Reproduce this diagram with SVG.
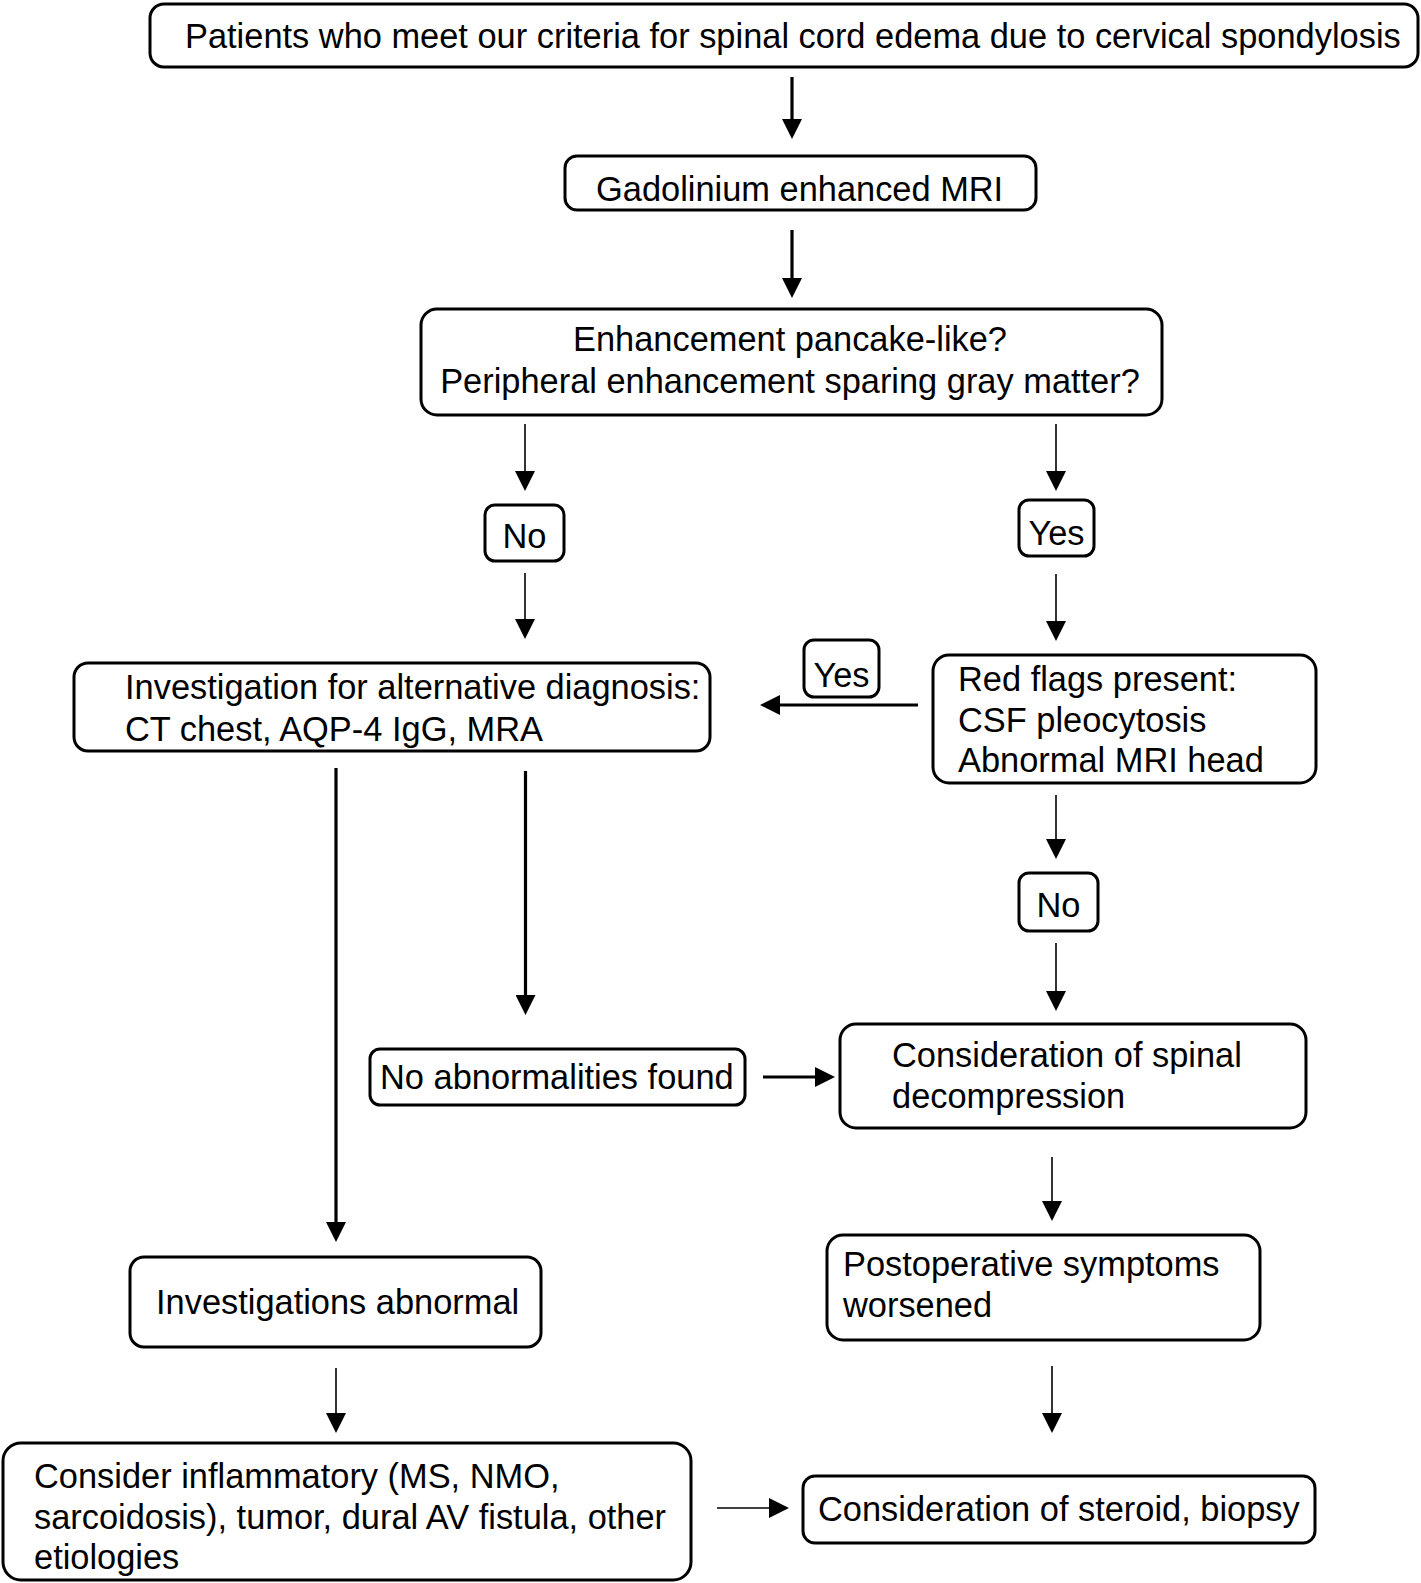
<svg xmlns="http://www.w3.org/2000/svg" width="1421" height="1583" viewBox="0 0 1421 1583">
<style>
.box{fill:#fff;stroke:#000;stroke-width:3}
.t{font-family:"Liberation Sans",Arial,sans-serif;font-size:34.4px;fill:#000}
.c{text-anchor:middle}
.thin{stroke:#000;stroke-width:1.6;fill:none}
.thick{stroke:#000;stroke-width:3.2;fill:none}
</style>
<defs>
<marker id="ah" markerUnits="userSpaceOnUse" viewBox="0 0 20 20" markerWidth="20" markerHeight="20" refX="2" refY="10" orient="auto">
<path d="M0,0 L20,10 L0,20 z" fill="#000"/>
</marker>
</defs>
<rect width="1421" height="1583" fill="#fff"/>
<g id="connectors">
<line class="thick" x1="792" y1="77" x2="792" y2="121" marker-end="url(#ah)"/>
<line class="thick" x1="792" y1="230" x2="792" y2="280" marker-end="url(#ah)"/>
<line class="thin" x1="525" y1="424" x2="525" y2="473" marker-end="url(#ah)"/>
<line class="thin" x1="1056" y1="424" x2="1056" y2="473" marker-end="url(#ah)"/>
<line class="thin" x1="525" y1="573" x2="525" y2="621" marker-end="url(#ah)"/>
<line class="thin" x1="1056" y1="574" x2="1056" y2="623" marker-end="url(#ah)"/>
<line class="thick" x1="918" y1="705" x2="778" y2="705" marker-end="url(#ah)"/>
<line class="thick" x1="336" y1="768" x2="336" y2="1224" marker-end="url(#ah)"/>
<line class="thick" x1="525.5" y1="771" x2="525.5" y2="997" marker-end="url(#ah)"/>
<line class="thin" x1="1056" y1="795" x2="1056" y2="841" marker-end="url(#ah)"/>
<line class="thin" x1="1056" y1="943" x2="1056" y2="993" marker-end="url(#ah)"/>
<line class="thick" x1="763" y1="1077" x2="817" y2="1077" marker-end="url(#ah)"/>
<line class="thin" x1="1052" y1="1157" x2="1052" y2="1203" marker-end="url(#ah)"/>
<line class="thin" x1="1052" y1="1366" x2="1052" y2="1415" marker-end="url(#ah)"/>
<line class="thin" x1="336" y1="1368" x2="336" y2="1415" marker-end="url(#ah)"/>
<line class="thin" x1="717" y1="1508" x2="771" y2="1508" marker-end="url(#ah)"/>
</g>
<g id="n-patients">
<rect class="box" x="150" y="4" width="1268" height="63" rx="14"/>
<text class="t" x="185" y="48">Patients who meet our criteria for spinal cord edema due to cervical spondylosis</text>
</g>
<g id="n-gadolinium">
<rect class="box" x="565" y="156" width="471" height="54" rx="12"/>
<text class="t" x="596" y="201">Gadolinium enhanced MRI</text>
</g>
<g id="n-enhancement">
<rect class="box" x="421" y="309" width="741" height="106" rx="16"/>
<text class="t c" x="790" y="351">Enhancement pancake-like?</text>
<text class="t c" x="790" y="393">Peripheral enhancement sparing gray matter?</text>
</g>
<g id="n-no1">
<rect class="box" x="485" y="505" width="79" height="56" rx="10"/>
<text class="t c" x="524.5" y="548">No</text>
</g>
<g id="n-yes1">
<rect class="box" x="1019" y="500" width="75" height="56" rx="10"/>
<text class="t c" x="1056.5" y="545">Yes</text>
</g>
<g id="n-investigation">
<rect class="box" x="74" y="663" width="636" height="88" rx="14"/>
<text class="t" x="125" y="699">Investigation for alternative diagnosis:</text>
<text class="t" x="125" y="741">CT chest, AQP-4 IgG, MRA</text>
</g>
<g id="n-yes2">
<rect class="box" x="804" y="640" width="75" height="57" rx="10"/>
<text class="t c" x="841.5" y="687">Yes</text>
</g>
<g id="n-redflags">
<rect class="box" x="933" y="655" width="383" height="128" rx="16"/>
<text class="t" x="958" y="691">Red flags present:</text>
<text class="t" x="958" y="731.5">CSF pleocytosis</text>
<text class="t" x="958" y="772">Abnormal MRI head</text>
</g>
<g id="n-no2">
<rect class="box" x="1019" y="873" width="79" height="58" rx="10"/>
<text class="t c" x="1058.5" y="917">No</text>
</g>
<g id="n-noabnormal">
<rect class="box" x="370" y="1049" width="375" height="56" rx="10"/>
<text class="t" x="380" y="1089">No abnormalities found</text>
</g>
<g id="n-decompression">
<rect class="box" x="840" y="1024" width="466" height="104" rx="16"/>
<text class="t" x="892" y="1067">Consideration of spinal</text>
<text class="t" x="892" y="1108">decompression</text>
</g>
<g id="n-invabnormal">
<rect class="box" x="130" y="1257" width="411" height="90" rx="14"/>
<text class="t" x="156" y="1314">Investigations abnormal</text>
</g>
<g id="n-postop">
<rect class="box" x="827" y="1235" width="433" height="105" rx="16"/>
<text class="t" x="843" y="1276">Postoperative symptoms</text>
<text class="t" x="843" y="1317">worsened</text>
</g>
<g id="n-consider">
<rect class="box" x="3" y="1443" width="688" height="137" rx="18"/>
<text class="t" x="34" y="1488">Consider inflammatory (MS, NMO,</text>
<text class="t" x="34" y="1529">sarcoidosis), tumor, dural AV fistula, other</text>
<text class="t" x="34" y="1569">etiologies</text>
</g>
<g id="n-steroid">
<rect class="box" x="803" y="1476" width="512" height="67" rx="12"/>
<text class="t" x="818" y="1521">Consideration of steroid, biopsy</text>
</g>
</svg>
